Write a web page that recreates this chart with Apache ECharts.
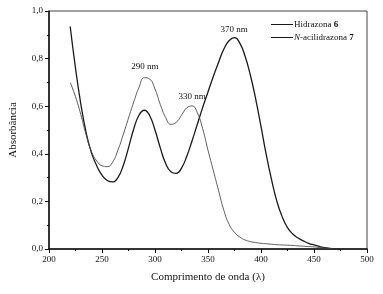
<!DOCTYPE html>
<html>
<head>
<meta charset="utf-8">
<script src="https://cdn.jsdelivr.net/npm/echarts@6/dist/echarts.min.js"></script>
<style>
  html, body { margin: 0; padding: 0; background: #fff; }
  #chart { width: 383px; height: 294px; }
</style>
</head>
<body>
<div id="chart"></div>
<script>
// comprimento de onda (nm)
const wavelength = [220, 225, 230, 235, 240, 245, 250, 255, 260, 265, 270, 275, 280, 285, 290, 295,
  300, 305, 310, 315, 320, 325, 330, 335, 340, 345, 350, 355, 360, 365, 370, 375, 380, 385, 390,
  395, 400, 405, 410, 415, 420, 425, 430, 435, 440, 445, 450, 455, 460, 465, 470, 475]

// Hidrazona 6 (linha mais forte)
const hidrazona6 = [0.935, 0.76, 0.61, 0.49, 0.405, 0.35, 0.31, 0.288, 0.282, 0.30, 0.35, 0.425, 0.505,
  0.563, 0.583, 0.56, 0.50, 0.425, 0.36, 0.325, 0.318, 0.34, 0.39, 0.455, 0.525, 0.595, 0.66, 0.725,
  0.785, 0.84, 0.876, 0.888, 0.865, 0.81, 0.73, 0.63, 0.515, 0.395, 0.29, 0.20, 0.135, 0.09, 0.063,
  0.046, 0.034, 0.024, 0.017, 0.011, 0.006, 0.003, 0.001, 0]

// N-acilidrazona 7 (linha fina)
const acilidrazona7 = [0.70, 0.64, 0.565, 0.48, 0.41, 0.37, 0.35, 0.346, 0.365, 0.415, 0.48, 0.55, 0.618,
  0.68, 0.72, 0.714, 0.672, 0.607, 0.553, 0.524, 0.532, 0.562, 0.593, 0.601, 0.572, 0.505, 0.415,
  0.33, 0.245, 0.162, 0.103, 0.07, 0.05, 0.038, 0.031, 0.027, 0.024, 0.022, 0.02, 0.018, 0.017,
  0.016, 0.015, 0.013, 0.012, 0.01, 0.009, 0.006, 0.004, 0.002, 0, 0]

// anotações dos picos
const peakLabels = ['290 nm', '330 nm', '370 nm']
const peakCoords = [[290.5, 0.768], [335, 0.642], [374.6, 0.923]]

const font = 'Liberation Serif'

const chart = echarts.init(document.getElementById('chart'))

function pairs(ys) {
  return wavelength.map((x, i) => [x, ys[i]])
}

const option = {
  animation: false,
  textStyle: { fontFamily: font },
  grid: {
    left: 42, right: 16, top: 11, bottom: 45,
    show: true, borderColor: '#444', borderWidth: 1
  },
  legend: {
    top: 15,
    left: 266,
    orient: 'vertical',
    itemWidth: 22,
    itemHeight: 6,
    itemGap: 4,
    icon: 'path://M0,0L22,0L22,1L0,1Z',
    data: ['Hidrazona 6', 'N-acilidrazona 7'],
    textStyle: {
      fontFamily: font, fontSize: 9, color: '#111', padding: [0, 0, 0, -4],
      rich: {
        b: { fontFamily: font, fontSize: 9, fontWeight: 'bold', color: '#111' },
        i: { fontFamily: font, fontSize: 9, fontStyle: 'italic', color: '#111' },
        n: { fontFamily: font, fontSize: 9, color: '#111' }
      }
    },
    formatter: function (name) {
      if (name === 'Hidrazona 6') return '{n|Hidrazona }{b|6}'
      return '{i|N}{n|-acilidrazona }{b|7}'
    }
  },
  xAxis: {
    type: 'value',
    min: 200, max: 500, interval: 50,
    name: 'Comprimento de onda (λ)',
    nameLocation: 'middle',
    nameGap: 23,
    nameTextStyle: { fontFamily: font, fontSize: 11, color: '#111' },
    axisLine: { onZero: false, lineStyle: { color: '#111', width: 1.5 } },
    axisTick: { inside: false, length: 4, lineStyle: { color: '#111' } },
    minorTick: { show: true, splitNumber: 2, length: 2, lineStyle: { color: '#111' } },
    splitLine: { show: false },
    axisLabel: { fontFamily: font, fontSize: 9, color: '#111', margin: 6 }
  },
  yAxis: {
    type: 'value',
    min: 0, max: 1, interval: 0.2,
    name: 'Absorbância',
    nameLocation: 'middle',
    nameGap: 30,
    nameTextStyle: { fontFamily: font, fontSize: 11, color: '#111' },
    axisLine: { show: true, lineStyle: { color: '#111', width: 1.5 } },
    axisTick: { show: true, inside: false, length: 4, lineStyle: { color: '#111' } },
    minorTick: { show: true, splitNumber: 2, length: 2, lineStyle: { color: '#111' } },
    splitLine: { show: false },
    axisLabel: {
      fontFamily: font, fontSize: 9, color: '#111', margin: 6,
      formatter: v => v.toFixed(1).replace('.', ',')
    }
  },
  series: [
    {
      name: 'Hidrazona 6',
      type: 'line',
      smooth: 0.5,
      showSymbol: false,
      color: '#1a1a1a',
      lineStyle: { width: 1.3, color: '#1a1a1a' },
      data: pairs(hidrazona6),
      z: 3
    },
    {
      name: 'N-acilidrazona 7',
      type: 'line',
      smooth: 0.5,
      showSymbol: false,
      color: '#1a1a1a',
      lineStyle: { width: 0.9, color: '#4a4a4a' },
      data: pairs(acilidrazona7),
      markPoint: {
        symbol: 'rect',
        symbolSize: 1,
        itemStyle: { color: 'rgba(0,0,0,0)' },
        label: {
          show: true, position: 'inside',
          fontFamily: font, fontSize: 9, color: '#111',
          formatter: p => p.name
        },
        data: peakLabels.map((t, i) => ({ name: t, coord: peakCoords[i] }))
      }
    }
  ]
}

chart.setOption(option)
</script>
</body>
</html>
